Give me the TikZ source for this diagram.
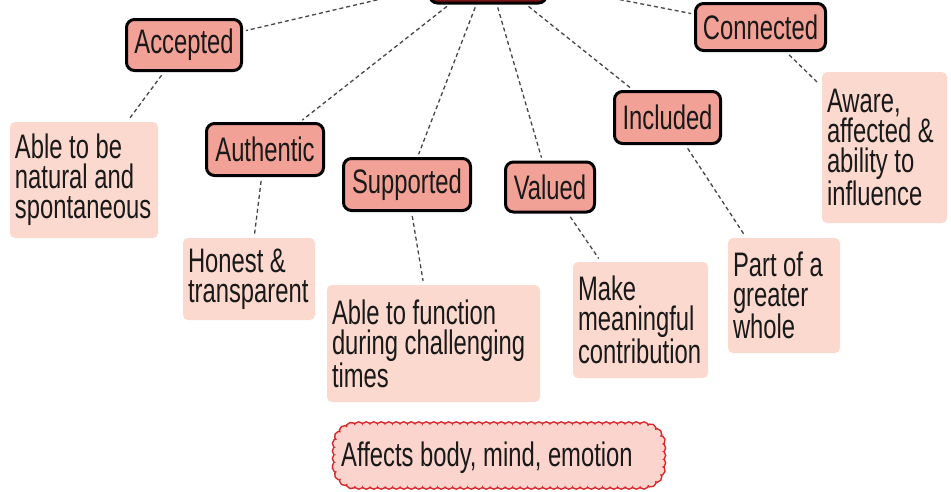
\documentclass[tikz,border=0pt]{standalone}
\usepackage{fontspec}
\setmainfont[FakeStretch=0.7, WordSpace=1.0]{Liberation Sans}
\usetikzlibrary{decorations.markings}
\definecolor{salmonfill}{HTML}{F2A196}
\definecolor{pinkfill}{HTML}{FCD9CE}
\definecolor{hubfill}{HTML}{7A1414}
\definecolor{linkgray}{HTML}{454545}
\definecolor{cloudfill}{HTML}{FBD5CD}
\definecolor{cloudline}{HTML}{D8262B}
\begin{document}
\begin{tikzpicture}[x=1pt,y=-1pt,
  labelfont/.style={font=\fontsize{34}{30}\selectfont},
  quality/.style={labelfont, draw=black, line width=3pt, fill=salmonfill,
    rounded corners=8pt, inner sep=0pt, text=black!90},
  detail/.style={labelfont, fill=pinkfill, rounded corners=5pt,
    inner xsep=5pt, inner ysep=0pt, align=left, text=black!90,
    execute at begin node={\spaceskip=0pt\xspaceskip=0pt\relax}},
  link/.style={draw=linkgray, line width=1.3pt, dash pattern=on 4pt off 3pt,
    shorten <=3pt, shorten >=3pt},
  scallopline/.style={decorate, decoration={markings,
    mark=between positions 0 and 1 step 7.5pt with
      {\draw[cloudline, line width=3pt] (0,0) circle (4.3pt);}}},
  scallopfill/.style={decorate, decoration={markings,
    mark=between positions 0 and 1 step 7.5pt with
      {\fill[cloudfill] (0,0) circle (4.3pt);}}}
]
\useasboundingbox (0,0) rectangle (951,491);
\clip (0,0) rectangle (951,491);
\fill[white] (0,0) rectangle (951,491);

% hub, mostly above the top edge
\node[draw=black, line width=3pt, fill=hubfill, rounded corners=8pt,
  minimum width=117pt, minimum height=58pt, inner sep=0pt] (hub) at (488,-26) {};

% qualities
\node[quality, minimum width=115pt, minimum height=51pt] (accepted)  at (184,45)    {Accepted};
\node[quality, minimum width=130pt, minimum height=47pt] (connected) at (760.5,27)  {Connected};
\node[quality, minimum width=117pt, minimum height=52pt] (authentic) at (265,149.5) {Authentic};
\node[quality, minimum width=106pt, minimum height=52pt] (included)  at (667.5,117.5) {Included};
\node[quality, minimum width=127pt, minimum height=52pt] (supported) at (407,184.5) {Supported};
\node[quality, minimum width=89pt,  minimum height=50pt] (valued)    at (550,187)   {Valued};

% descriptions
\node[detail, minimum width=148pt, minimum height=116pt, text width=138pt] (natural) at (84,180)
  {Able to be\\natural and\\spontaneous};
\node[detail, minimum width=132pt, minimum height=82pt, text width=122pt] (honest) at (249,279)
  {Honest \&\\transparent};
\node[detail, minimum width=213pt, minimum height=117pt, text width=203pt] (function) at (433.5,343.5)
  {Able to function\\during challenging\\times};
\node[detail, minimum width=135pt, minimum height=116pt, text width=125pt] (meaningful) at (640.5,320)
  {Make\\meaningful\\contribution};
\node[detail, minimum width=112pt, minimum height=115pt, text width=102pt] (whole) at (784,295.5)
  {Part of a\\greater\\whole};
\node[detail, minimum width=125pt, minimum height=151pt, text width=115pt] (aware) at (884.5,147.5)
  {Aware,\\affected \&\\ability to\\influence};

% scalloped summary note: a ring of small circles round a filled rounded box
\coordinate (cloudsw) at (337.5,484);
\coordinate (cloudne) at (660.5,427);
\path[scallopline] [rounded corners=18pt] (cloudsw) rectangle (cloudne);
\path[scallopfill] [rounded corners=18pt] (cloudsw) rectangle (cloudne);
\fill[cloudfill, rounded corners=18pt] (cloudsw) rectangle (cloudne);
\node[labelfont, anchor=west, inner sep=0pt, text=black!90] (cloud) at (341,458)
  {Affects body, mind, emotion};

% connectors
\foreach \q in {accepted,connected,authentic,included,supported,valued}
  \draw[link] (hub) -- (\q);
\draw[link, shorten <=4pt, shorten >=4pt] (accepted)  -- (natural);
\draw[link, shorten <=4pt, shorten >=4pt] (authentic) -- (honest);
\draw[link, shorten <=4pt, shorten >=4pt] (supported) -- (function);
\draw[link, shorten <=4pt, shorten >=4pt] (valued)    -- (meaningful);
\draw[link, shorten <=4pt, shorten >=4pt] (included)  -- (whole);
\draw[link, shorten <=4pt, shorten >=4pt] (connected) -- (aware);
\end{tikzpicture}
\end{document}
